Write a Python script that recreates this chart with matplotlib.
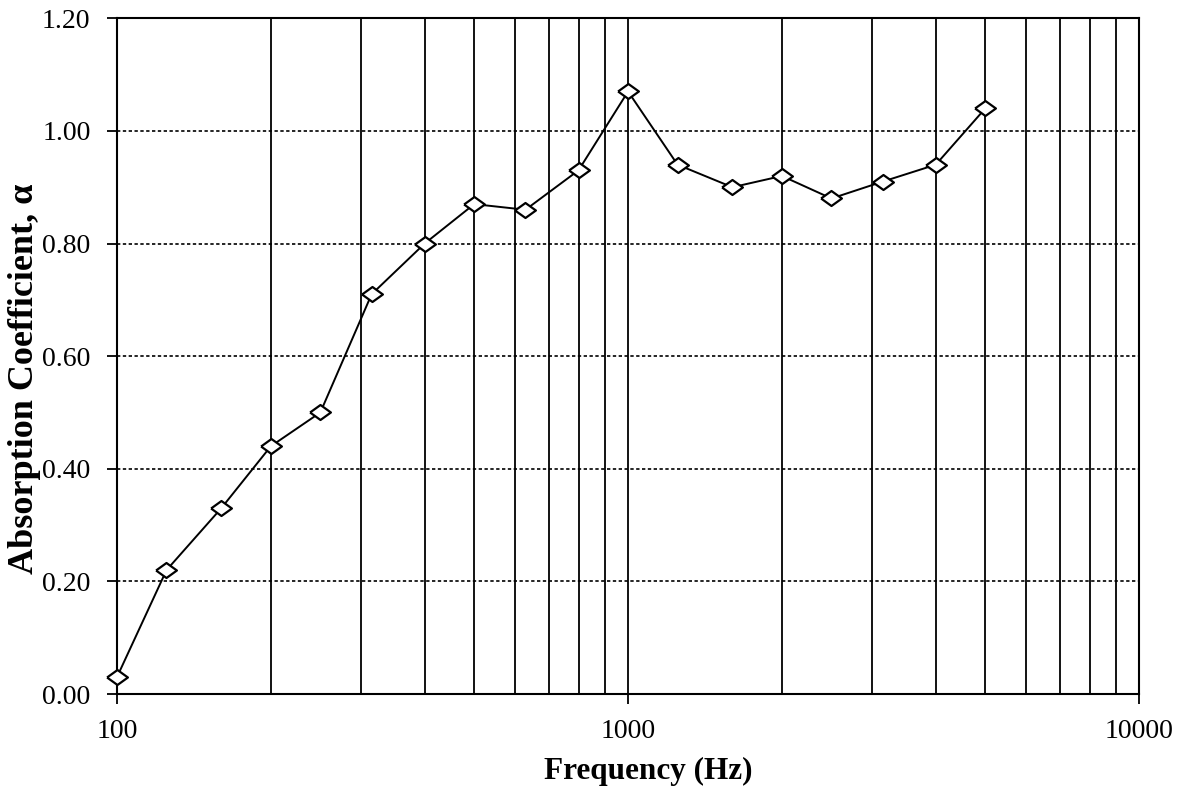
import matplotlib.pyplot as plt
from matplotlib.ticker import FixedLocator, NullFormatter, LogLocator

freq = [100, 125, 160, 200, 250, 315, 400, 500, 630, 800, 1000,
        1250, 1600, 2000, 2500, 3150, 4000, 5000]
alpha = [0.03, 0.22, 0.33, 0.44, 0.50, 0.71, 0.80, 0.87, 0.86, 0.93, 1.07,
         0.94, 0.90, 0.92, 0.88, 0.91, 0.94, 1.04]
yticks = [0.0, 0.2, 0.4, 0.6, 0.8, 1.0, 1.2]
xticks = [100, 1000, 10000]

plt.rcParams['font.family'] = ['Liberation Serif', 'DejaVu Serif']

fig = plt.figure(figsize=(11.79, 7.95), dpi=100)
ax = fig.add_axes([0.0992, 0.127, 0.867, 0.850])

diamond = [(-1, 0), (0, 0.72), (1, 0), (0, -0.72), (-1, 0)]
ax.plot(freq, alpha, color='black', lw=1.4, marker=diamond, markersize=15,
        markerfacecolor='white', markeredgecolor='black', markeredgewidth=1.6,
        zorder=5, clip_on=False)

ax.set_xscale('log')
ax.set_xlim(100, 10000)
ax.set_ylim(0, 1.2)
ax.xaxis.set_major_locator(FixedLocator(xticks))
ax.set_xticklabels([str(t) for t in xticks])
ax.xaxis.set_minor_locator(LogLocator(base=10, subs=range(2, 10)))
ax.xaxis.set_minor_formatter(NullFormatter())
ax.set_yticks(yticks)
ax.set_yticklabels([f'{t:.2f}' for t in yticks])

ax.grid(True, which='both', axis='x', color='black', lw=1.3, ls='-')
ax.grid(True, which='major', axis='y', color='black', lw=1.2, ls=(0, (2, 1.5)))
ax.set_axisbelow(True)

for s in ax.spines.values():
    s.set_linewidth(1.5)

ax.tick_params(axis='y', which='major', direction='out', length=7, width=1.3,
               labelsize=20, pad=12)
ax.tick_params(axis='x', which='major', direction='out', length=7, width=1.3,
               labelsize=20, pad=11)
ax.tick_params(axis='x', which='minor', length=0)

ax.set_xlabel('Frequency (Hz)', fontsize=22.5, fontweight='bold', va='center')
ax.set_ylabel('Absorption Coefficient, α', fontsize=26, fontweight='bold', va='center')
ax.xaxis.set_label_coords(0.52, -0.115)
ax.yaxis.set_label_coords(-0.09, 0.466)

fig.savefig('out.png', dpi=100)
